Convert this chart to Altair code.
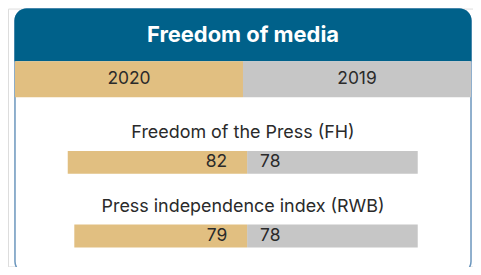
import altair as alt
import pandas as pd

# ---- data ----
title_text = ["Freedom of media"]
years = ["2020", "2019"]
metrics = ["Freedom of the Press (FH)", "Press independence index (RWB)"]
values_2020 = [82, 79]
values_2019 = [78, 78]

# ---- styles ----
FONT = "Inter"
HEADER = "#00618a"
TAN = "#e1bf81"
GRAY = "#c6c6c6"
BORDER = "#6b96bd"
TEXT = "#2a2a2a"

W, H = 467, 259

rows = []
for m, v20, v19 in zip(metrics, values_2020, values_2019):
    rows.append({"metric": m, "year": "2019", "start": 0, "end": v19, "split": v19, "value": v19})
    rows.append({"metric": m, "year": "2020", "start": v19, "end": v19 + v20, "split": v19, "value": v20})
bars_df = pd.DataFrame(rows)
years_df = pd.DataFrame({"year": years})
dummy = pd.DataFrame({"t": title_text})

color_scale = alt.Scale(domain=years, range=[TAN, GRAY])
x_scale = alt.Scale(domain=[0, 160], reverse=True, range=[60, 411.5], nice=False, zero=False)
y_scale = alt.Scale(domain=metrics, range=[143, 240], paddingInner=0.689, paddingOuter=0)
xyear_scale = alt.Scale(domain=years, range=[7, 465], paddingInner=0, paddingOuter=0)

card = alt.Chart(dummy).mark_rect(
    fill="white", stroke=BORDER, strokeWidth=1.5, cornerRadius=12
).encode(x=alt.value(7), x2=alt.value(465), y=alt.value(0.5), y2=alt.value(266))

header = alt.Chart(dummy).mark_rect(
    fill=HEADER, cornerRadiusTopLeft=12, cornerRadiusTopRight=12
).encode(x=alt.value(6.5), x2=alt.value(465.5), y=alt.value(0), y2=alt.value(53))

title = alt.Chart(dummy).mark_text(
    font=FONT, fontSize=22, fontWeight="bold", color="white", baseline="middle", align="center"
).encode(x=alt.value(236), y=alt.value(26.5), text="t:N")

year_rect = alt.Chart(years_df).mark_rect().encode(
    x=alt.X("year:N", scale=xyear_scale, axis=None, sort=years),
    y=alt.value(53), y2=alt.value(89),
    color=alt.Color("year:N", scale=color_scale, legend=None),
)
year_text = alt.Chart(years_df).mark_text(
    font=FONT, fontSize=17.5, color=TEXT, baseline="middle"
).encode(
    x=alt.X("year:N", scale=xyear_scale, axis=None, sort=years),
    y=alt.value(71),
    text="year:N",
)

bars = alt.Chart(bars_df).mark_rect().encode(
    x=alt.X("start:Q", scale=x_scale, axis=None),
    x2="end:Q",
    y=alt.Y("metric:N", scale=y_scale, axis=None, sort=metrics),
    color=alt.Color("year:N", scale=color_scale, legend=None),
)

lab20 = alt.Chart(bars_df).transform_filter(alt.datum.year == "2020").mark_text(
    font=FONT, fontSize=17.5, color=TEXT, align="right", baseline="middle", dx=-20
).encode(
    x=alt.X("split:Q", scale=x_scale, axis=None),
    y=alt.Y("metric:N", scale=y_scale, axis=None, sort=metrics),
    text="value:Q",
)
lab19 = alt.Chart(bars_df).transform_filter(alt.datum.year == "2019").mark_text(
    font=FONT, fontSize=17.5, color=TEXT, align="left", baseline="middle", dx=13
).encode(
    x=alt.X("split:Q", scale=x_scale, axis=None),
    y=alt.Y("metric:N", scale=y_scale, axis=None, sort=metrics),
    text="value:Q",
)

metric_text = alt.Chart(pd.DataFrame({"metric": metrics})).mark_text(
    font=FONT, fontSize=18, color=TEXT, align="center", baseline="middle", dy=-29.5
).encode(
    x=alt.value(236),
    y=alt.Y("metric:N", scale=y_scale, axis=None, sort=metrics),
    text="metric:N",
)

chart = alt.layer(
    card, header, title, year_rect, year_text, bars, lab20, lab19, metric_text
).resolve_scale(x="independent").properties(
    width=W, height=H, padding=0, autosize=alt.AutoSizeParams(type="none")
).configure_view(stroke=None).configure(background="white")

chart.save("out.html", embed_options={"renderer": "svg", "actions": False})
